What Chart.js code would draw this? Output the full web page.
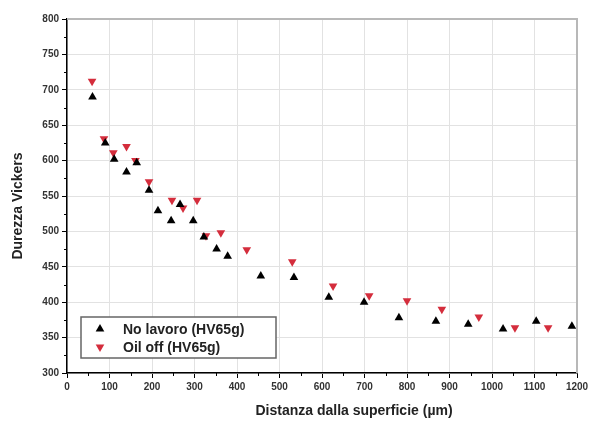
<!DOCTYPE html>
<html>
<head>
<meta charset="utf-8">
<script src="https://cdn.jsdelivr.net/npm/chart.js@4/dist/chart.umd.min.js"></script>
<style>
  html, body { margin: 0; padding: 0; background: #fff; }
  #hv-chart { display: block; }
</style>
</head>
<body>
<canvas id="hv-chart" width="594" height="421"></canvas>
<script>
// --- DATA ---
const distNoLavoro = [60, 90, 111, 140, 164, 193, 214, 245, 266, 297, 322, 352, 378, 456, 534, 616, 699, 781, 868, 944, 1026, 1104, 1188];
const hvNoLavoro   = [690, 625, 602, 584, 597, 558, 529, 515, 538, 515, 492, 475, 465, 437, 435, 407, 400, 378, 373, 369, 362, 373, 366];
const distOilOff = [59, 87, 109, 140, 161, 193, 247, 273, 306, 327, 362, 423, 530, 626, 711, 800, 882, 969, 1054, 1132];
const hvOilOff   = [712, 631, 611, 620, 600, 570, 544, 533, 544, 494, 498, 474, 457, 423, 409, 402, 390, 379, 364, 364];

const seriesLabels = ['No lavoro (HV65g)', 'Oil off (HV65g)'];
const xTitle = 'Distanza dalla superficie (\u00b5m)';
const yTitle = 'Durezza Vickers';

const RED = '#d42d3c';
const FONT = '"Liberation Sans", Arial, sans-serif';

const toPoints = (xs, ys) => xs.map((x, i) => ({ x: x, y: ys[i] }));

function triangle(ctx, x, y, r, down) {
    const s = down ? -1 : 1;
    ctx.beginPath();
    ctx.moveTo(x, y - s * r);
    ctx.lineTo(x + r * 0.866, y + s * r * 0.5);
    ctx.lineTo(x - r * 0.866, y + s * r * 0.5);
    ctx.closePath();
    ctx.fill();
}

// minor ticks, top/right frame, axis titles and the boxed legend
const decorations = {
    id: 'decorations',
    beforeDraw(chart) {
        const ctx = chart.ctx;
        ctx.save();
        ctx.fillStyle = '#fff';
        ctx.fillRect(0, 0, chart.width, chart.height);
        ctx.restore();
    },
    afterDraw(chart) {
        const ctx = chart.ctx;
        const a = chart.chartArea;
        const xs = chart.scales.x, ys = chart.scales.y;
        ctx.save();

        // frame on top and right
        ctx.strokeStyle = '#b8b8b8';
        ctx.lineWidth = 2;
        ctx.beginPath();
        ctx.moveTo(a.left, a.top);
        ctx.lineTo(a.right, a.top);
        ctx.lineTo(a.right, a.bottom);
        ctx.stroke();

        // minor ticks
        ctx.strokeStyle = '#000';
        ctx.lineWidth = 1;
        ctx.beginPath();
        for (let v = 50; v < 1200; v += 100) {
            const px = Math.round(xs.getPixelForValue(v)) + 0.5;
            ctx.moveTo(px, a.bottom);
            ctx.lineTo(px, a.bottom + 3);
        }
        for (let v = 325; v < 800; v += 50) {
            const py = Math.round(ys.getPixelForValue(v)) + 0.5;
            ctx.moveTo(a.left, py);
            ctx.lineTo(a.left - 3, py);
        }
        ctx.stroke();

        // axis titles
        ctx.fillStyle = '#222';
        ctx.font = 'bold 14px ' + FONT;
        ctx.textAlign = 'center';
        ctx.textBaseline = 'middle';
        ctx.fillText(xTitle, 354, 411);
        ctx.translate(18, 206);
        ctx.rotate(-Math.PI / 2);
        ctx.fillText(yTitle, 0, 0);
        ctx.setTransform(1, 0, 0, 1, 0, 0);

        // legend box
        const bx = a.left + 14, by = a.bottom - 56, bw = 195, bh = 41;
        ctx.fillStyle = '#fff';
        ctx.fillRect(bx, by, bw, bh);
        ctx.strokeStyle = '#666';
        ctx.lineWidth = 1.5;
        ctx.strokeRect(bx, by, bw, bh);
        ctx.font = 'bold 14px ' + FONT;
        ctx.textAlign = 'left';
        chart.data.datasets.forEach((ds, i) => {
            const cy = by + 12 + i * 18;
            ctx.fillStyle = ds.backgroundColor;
            triangle(ctx, bx + 19, cy, 5, ds.rotation === 180);
            ctx.fillStyle = '#222';
            ctx.fillText(ds.label, bx + 42, cy + 1);
        });
        ctx.restore();
    }
};

new Chart(document.getElementById('hv-chart'), {
    type: 'scatter',
    data: {
        datasets: [{
            label: seriesLabels[0],
            data: toPoints(distNoLavoro, hvNoLavoro),
            pointStyle: 'triangle',
            rotation: 0,
            radius: 5,
            backgroundColor: '#000',
            borderColor: '#000',
            borderWidth: 0
        }, {
            label: seriesLabels[1],
            data: toPoints(distOilOff, hvOilOff),
            pointStyle: 'triangle',
            rotation: 180,
            radius: 5,
            backgroundColor: RED,
            borderColor: RED,
            borderWidth: 0
        }]
    },
    options: {
        responsive: false,
        animation: false,
        layout: { padding: { top: 19, right: 17, left: 0, bottom: 0 } },
        plugins: {
            legend: { display: false },
            tooltip: { enabled: false }
        },
        scales: {
            x: {
                type: 'linear',
                min: 0,
                max: 1200,
                afterFit: (s) => { s.height = 48; },
                ticks: {
                    stepSize: 100, color: '#333', padding: 3,
                    font: { family: FONT, size: 10, weight: 'bold' },
                    callback: (v) => String(v)
                },
                grid: { color: '#e2e2e2', tickColor: '#000', tickLength: 5 },
                border: { color: '#000', width: 1.5 }
            },
            y: {
                min: 300,
                max: 800,
                afterFit: (s) => { s.width = 67; },
                ticks: {
                    stepSize: 50, color: '#333', padding: 3,
                    font: { family: FONT, size: 10, weight: 'bold' },
                    callback: (v) => String(v)
                },
                grid: { color: '#e2e2e2', tickColor: '#000', tickLength: 5 },
                border: { color: '#000', width: 1.5 }
            }
        }
    },
    plugins: [decorations]
});
</script>
</body>
</html>
